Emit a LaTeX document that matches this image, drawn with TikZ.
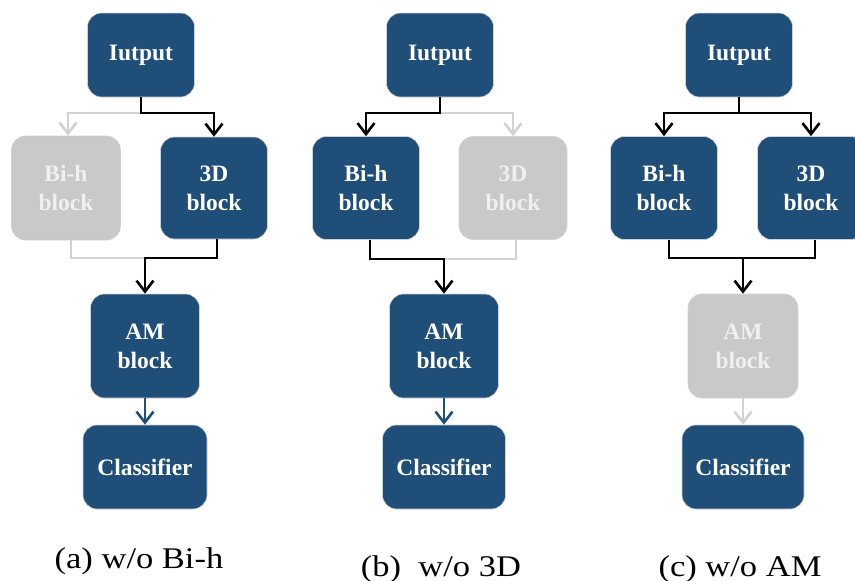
\documentclass[tikz,border=0pt]{standalone}
\usepackage{fontspec}
\setmainfont{Liberation Serif}
\usetikzlibrary{arrows.meta,positioning}
\definecolor{bluec}{HTML}{1F4E79}
\definecolor{offc}{HTML}{C9C9C9}
\definecolor{offl}{HTML}{D2D2D2}
\tikzset{
  blk/.style={draw=gray!35,line width=0.6pt,fill=bluec,rounded corners=14pt,text=white,align=center,inner sep=0pt,
    font=\fontsize{23.5}{29}\selectfont\bfseries},
  off/.style={blk,fill=offc,text=white!94!black},
  ln/.style={line width=2.6pt,black},
  lnoff/.style={line width=2.6pt,offl},
  ar/.style={-{Straight Barb[length=11pt,width=17pt]}},
  captxt/.style={anchor=base,inner sep=0pt,font=\fontsize{30}{36}\selectfont}
}
\newcommand{\wide}[1]{\scalebox{1.15}[1]{#1}}

\begin{document}
\begin{tikzpicture}[x=1pt,y=-1pt]
\useasboundingbox (0,0) rectangle (855,581);
% (a) without Bi-h
\node[blk,minimum width=107,minimum height=84] (inpA) at (141,55) {Iutput};
\node[off,minimum width=109,minimum height=104] (bihA) at (66,188) {Bi-h\\block};
\node[blk,minimum width=107,minimum height=102] (tddA) at (214,188) {3D\\block};
\node[blk,minimum width=109,minimum height=104] (amA) at (145,346) {AM\\block};
\node[blk,minimum width=124,minimum height=84] (clsA) at (145,467) {Classifier};
\coordinate (tA) at (141,113);
\coordinate (jA) at (145,258);
\draw[lnoff,ar] (tA) -| ([xshift=2]bihA.north);
\draw[lnoff] ([xshift=5]bihA.south) |- (jA);
\draw[ln,ar] (inpA.south) -- (tA) -| (tddA.north);
\draw[ln,ar] ([xshift=3]tddA.south) |- (jA) -- (amA.north);
\draw[ln,bluec,ar] (amA.south) -- (clsA.north);
\node[captxt] (capA) at (139,568) {\wide{(a) w/o Bi-h}};

% (b) without 3D
\node[blk,minimum width=107,minimum height=84] (inpB) at (440,55) {Iutput};
\node[blk,minimum width=107,minimum height=103] (bihB) at (366,188) {Bi-h\\block};
\node[off,minimum width=108,minimum height=103] (tddB) at (513,188) {3D\\block};
\node[blk,minimum width=109,minimum height=104] (amB) at (444,346) {AM\\block};
\node[blk,minimum width=123,minimum height=84] (clsB) at (444,467) {Classifier};
\coordinate (tB) at (440,113);
\coordinate (jB) at (444,259);
\draw[lnoff,ar] (tB) -| (tddB.north);
\draw[lnoff] ([xshift=3]tddB.south) |- (jB);
\draw[ln,ar] (inpB.south) -- (tB) -| (bihB.north);
\draw[ln,ar] ([xshift=4]bihB.south) |- (jB) -- (amB.north);
\draw[ln,bluec,ar] (amB.south) -- (clsB.north);
\node[captxt] (capB) at (441,576) {\wide{(b)~~w/o 3D}};

% (c) without AM
\node[blk,minimum width=107,minimum height=84] (inpC) at (739,55) {Iutput};
\node[blk,minimum width=107,minimum height=103] (bihC) at (664,188) {Bi-h\\block};
\node[blk,minimum width=107,minimum height=103] (tddC) at (811,188) {3D\\block};
\node[off,minimum width=110,minimum height=104] (amC) at (743,346) {AM\\block};
\node[blk,minimum width=122,minimum height=84] (clsC) at (743,467) {Classifier};
\coordinate (tC) at (739,113);
\coordinate (jC) at (743,258);
\draw[ln,ar] (inpC.south) -- (tC) -| (bihC.north);
\draw[ln,ar] (tC) -| (tddC.north);
\draw[ln] ([xshift=5]bihC.south) |- (jC);
\draw[ln,ar] ([xshift=4]tddC.south) |- (jC) -- (amC.north);
\draw[lnoff,ar] (amC.south) -- (clsC.north);
\node[captxt] (capC) at (740,576) {\wide{(c) w/o AM}};
\end{tikzpicture}
\end{document}
